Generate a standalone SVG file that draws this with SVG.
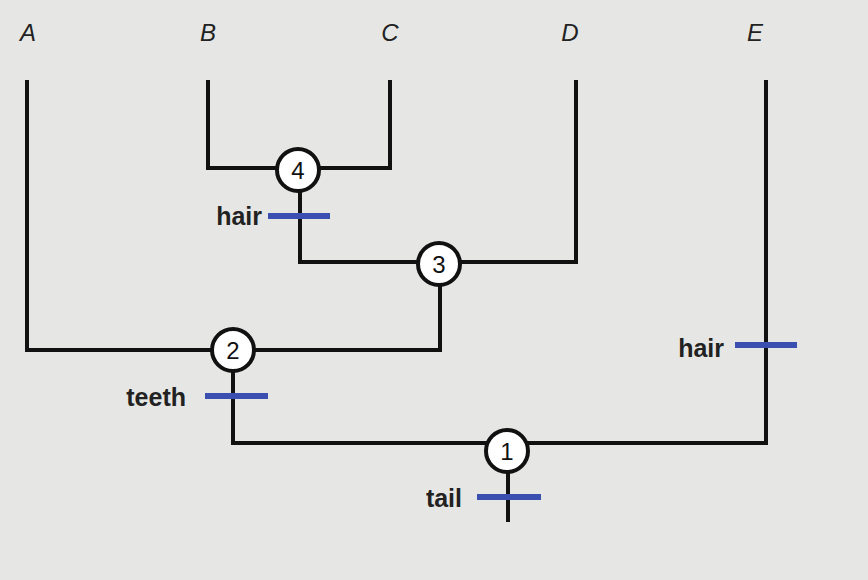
<svg xmlns="http://www.w3.org/2000/svg" width="868" height="580" viewBox="0 0 868 580">
<style>
.l{stroke:#111;stroke-width:4;fill:none}
.b{stroke:#3b4fb0;stroke-width:6}
.n circle{fill:#fff;stroke:#111;stroke-width:4}
.n text{font:500 24px "Liberation Sans",sans-serif;text-anchor:middle;fill:#111}
.tip{font:italic 24px "Liberation Sans",sans-serif;text-anchor:middle;fill:#222}
.lab{font:bold 25px "Liberation Sans",sans-serif;fill:#222;text-anchor:end}
</style>
<rect width="868" height="580" fill="#e6e7e4"/>
<g id="connectors">
<path class="l" d="M27 80V350H440V262"/>
<path class="l" d="M208 80V168H390V80"/>
<path class="l" d="M300 168V262H576V80"/>
<path class="l" d="M233 350V443H766V80"/>
<path class="l" d="M508 443V522"/>
</g>
<g id="tips">
<text class="tip" x="28" y="41">A</text>
<text class="tip" x="208" y="41">B</text>
<text class="tip" x="390" y="41">C</text>
<text class="tip" x="570" y="41">D</text>
<text class="tip" x="755" y="41">E</text>
</g>
<g id="traits">
<line class="b" x1="268" y1="216" x2="330" y2="216"/><text class="lab" x="262" y="225">hair</text>
<line class="b" x1="205" y1="396" x2="268" y2="396"/><text class="lab" x="186" y="406">teeth</text>
<line class="b" x1="735" y1="345" x2="797" y2="345"/><text class="lab" x="724" y="357">hair</text>
<line class="b" x1="477" y1="497" x2="541" y2="497"/><text class="lab" x="462" y="507">tail</text>
</g>
<g id="node4" class="n"><circle cx="298" cy="170" r="21"/><text x="298" y="179">4</text></g>
<g id="node3" class="n"><circle cx="439" cy="264" r="21"/><text x="439" y="273">3</text></g>
<g id="node2" class="n"><circle cx="233" cy="350" r="21"/><text x="233" y="359">2</text></g>
<g id="node1" class="n"><circle cx="507" cy="451" r="21"/><text x="507" y="460">1</text></g>
</svg>
